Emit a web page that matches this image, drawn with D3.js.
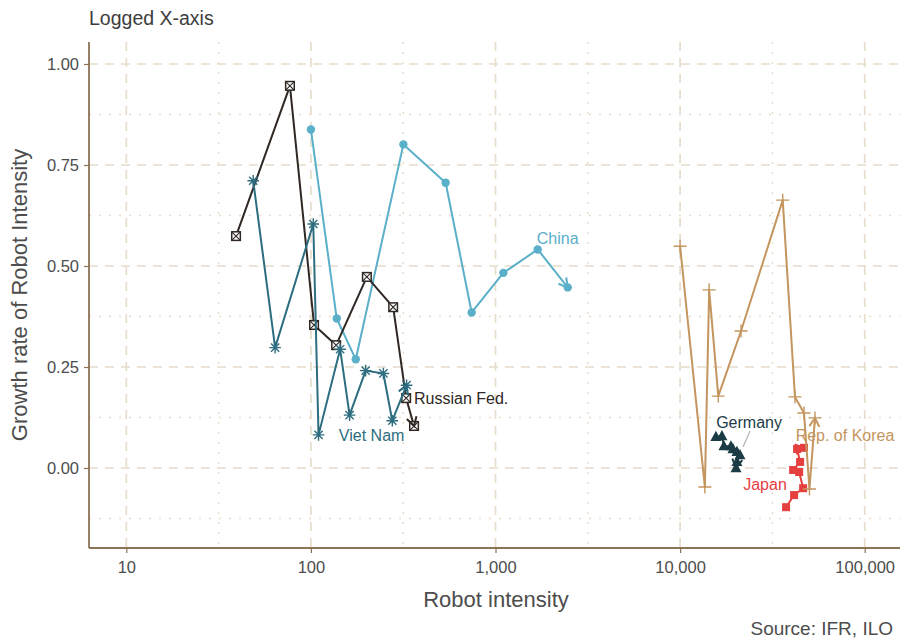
<!DOCTYPE html>
<html>
<head>
<meta charset="utf-8">
<script src="https://cdn.jsdelivr.net/npm/d3@7"></script>
<style>
  body { margin: 0; background: #fff; }
  svg { display: block; font-family: "Liberation Sans", Arial, sans-serif; }
</style>
</head>
<body>
<svg id="chart" width="903" height="640"></svg>
<script>
// Axis ticks
const xTicks = [10, 100, 1000, 10000, 100000];
const xMinorTicks = [31.6228, 316.228, 3162.28, 31622.8];
const yTicks = [0, 0.25, 0.5, 0.75, 1];
const yMinorTicks = [-0.125, 0.125, 0.375, 0.625, 0.875];

// Robot intensity (x) and its growth rate (y), one path per country, in time order
const chinaIntensity  = [100, 138, 175, 317, 537, 743, 1103, 1693, 2461];
const chinaGrowth     = [0.838, 0.370, 0.269, 0.801, 0.706, 0.385, 0.483, 0.541, 0.447];

const germanyIntensity = [15630, 16850, 17270, 18850, 19330, 20320, 21100, 20320, 20090];
const germanyGrowth    = [0.077, 0.079, 0.054, 0.054, 0.047, 0.040, 0.032, 0.015, 0.000];

const japanIntensity = [37500, 41450, 46400, 44140, 40950, 44680, 43040, 46900];
const japanGrowth    = [-0.097, -0.067, -0.050, -0.010, -0.005, 0.015, 0.047, 0.050];

const koreaIntensity = [10000, 13620, 14370, 16100, 21380, 35970, 41900, 46900, 50200, 53800];
const koreaGrowth    = [0.549, -0.047, 0.441, 0.178, 0.339, 0.663, 0.176, 0.136, -0.052, 0.124];

const russiaIntensity = [39.3, 77, 104, 137, 201, 279, 328, 362];
const russiaGrowth    = [0.574, 0.946, 0.354, 0.304, 0.473, 0.398, 0.173, 0.104];

const vietnamIntensity = [48.7, 64, 103, 110, 144, 162, 198, 247, 276, 330];
const vietnamGrowth    = [0.711, 0.298, 0.604, 0.082, 0.294, 0.131, 0.241, 0.234, 0.117, 0.205];

const countryNames = ["China", "Germany", "Japan", "Rep. of Korea", "Russian Fed.", "Viet Nam"];

const series = [
  { name: countryNames[0], x: chinaIntensity,   y: chinaGrowth,   color: "#5aafc9", shape: "circle",   lab: { dx: -10, dy: -49 } },
  { name: countryNames[1], x: germanyIntensity, y: germanyGrowth, color: "#1b3b46", shape: "triangle", lab: { dx: 13, dy: -46 }, leader: true },
  { name: countryNames[2], x: japanIntensity,   y: japanGrowth,   color: "#e5403f", shape: "square",   lab: { dx: -39, dy: 37 } },
  { name: countryNames[3], x: koreaIntensity,   y: koreaGrowth,   color: "#c4955e", shape: "plus",     lab: { dx: 30, dy: 17 } },
  { name: countryNames[4], x: russiaIntensity,  y: russiaGrowth,  color: "#2f2824", shape: "boxx",     lab: { dx: 0, dy: -28, anchor: "start" } },
  { name: countryNames[5], x: vietnamIntensity, y: vietnamGrowth, color: "#2d6d80", shape: "asterisk", lab: { dx: -35, dy: 50 } }
];

const svg = d3.select("#chart");

// Panel edges
const panel = { left: 89, right: 900, top: 42, bottom: 548 };

const x = d3.scaleLog().domain([10, 100000]).range([126.3, 864.7]);
const y = d3.scaleLinear().domain([0, 1]).range([468, 64]);

const gridColor = "#e8dccb";
const axisColor = "#8c7355";
const textColor = "#4d4d4d";

// Grid
const grid = svg.append("g");
grid.selectAll(".hmaj").data(yTicks).join("line")
  .attr("x1", panel.left).attr("x2", panel.right)
  .attr("y1", d => y(d)).attr("y2", d => y(d))
  .attr("stroke", gridColor).attr("stroke-width", 1.7).attr("stroke-dasharray", "9,7");
grid.selectAll(".hmin").data(yMinorTicks).join("line")
  .attr("x1", panel.left).attr("x2", panel.right)
  .attr("y1", d => y(d)).attr("y2", d => y(d))
  .attr("stroke", gridColor).attr("stroke-width", 1.5).attr("stroke-dasharray", "2,8");
grid.selectAll(".vmaj").data(xTicks).join("line")
  .attr("x1", d => x(d)).attr("x2", d => x(d))
  .attr("y1", panel.top).attr("y2", panel.bottom)
  .attr("stroke", gridColor).attr("stroke-width", 1.7).attr("stroke-dasharray", "9,7");
grid.selectAll(".vmin").data(xMinorTicks).join("line")
  .attr("x1", d => x(d)).attr("x2", d => x(d))
  .attr("y1", panel.top).attr("y2", panel.bottom)
  .attr("stroke", gridColor).attr("stroke-width", 1.5).attr("stroke-dasharray", "2,8");

// Axes
const xAxis = d3.axisBottom(x).tickValues(xTicks).tickFormat(d3.format(",")).tickSize(5).tickPadding(8);
const yAxis = d3.axisLeft(y).tickValues(yTicks).tickFormat(d3.format(".2f")).tickSize(5).tickPadding(5);

const gx = svg.append("g").attr("transform", `translate(0,${panel.bottom})`).call(xAxis);
const gy = svg.append("g").attr("transform", `translate(${panel.left},0)`).call(yAxis);
[gx, gy].forEach(g => {
  g.select(".domain").remove();
  g.selectAll(".tick line").attr("stroke", axisColor).attr("stroke-width", 1.2);
  g.selectAll(".tick text").attr("fill", textColor).style("font-size", "16.5px")
    .style("font-family", "'Liberation Sans', Arial, sans-serif");
});
svg.append("line").attr("x1", panel.left).attr("x2", panel.right)
  .attr("y1", panel.bottom).attr("y2", panel.bottom)
  .attr("stroke", axisColor).attr("stroke-width", 1.8);
svg.append("line").attr("x1", panel.left).attr("x2", panel.left)
  .attr("y1", panel.top).attr("y2", panel.bottom)
  .attr("stroke", axisColor).attr("stroke-width", 1.8);

// Marker symbols
function drawMarker(g, shape, px, py, color) {
  if (shape === "circle") {
    g.append("circle").attr("cx", px).attr("cy", py).attr("r", 4.2).attr("fill", color);
  } else if (shape === "triangle") {
    const s = 5.5;
    g.append("path").attr("d", `M${px},${py - s * 1.1}L${px + s},${py + s * 0.75}L${px - s},${py + s * 0.75}Z`).attr("fill", color);
  } else if (shape === "square") {
    g.append("rect").attr("x", px - 4).attr("y", py - 4).attr("width", 8).attr("height", 8).attr("fill", color);
  } else if (shape === "plus") {
    const s = 6.5;
    g.append("path").attr("d", `M${px - s},${py}H${px + s}M${px},${py - s}V${py + s}`)
      .attr("stroke", color).attr("stroke-width", 1.4).attr("fill", "none");
  } else if (shape === "boxx") {
    const s = 4.3;
    g.append("rect").attr("x", px - s).attr("y", py - s).attr("width", 2 * s).attr("height", 2 * s)
      .attr("fill", "#fff").attr("stroke", color).attr("stroke-width", 1.5);
    g.append("path").attr("d", `M${px - s},${py - s}L${px + s},${py + s}M${px + s},${py - s}L${px - s},${py + s}`)
      .attr("stroke", color).attr("stroke-width", 1.1);
  } else if (shape === "asterisk") {
    const s = 5.8, d = s * 0.707;
    g.append("path").attr("d",
      `M${px - s},${py}H${px + s}M${px},${py - s}V${py + s}M${px - d},${py - d}L${px + d},${py + d}M${px + d},${py - d}L${px - d},${py + d}`)
      .attr("stroke", color).attr("stroke-width", 1.4);
  }
}

const line = d3.line().x(d => x(d[0])).y(d => y(d[1]));
const marks = svg.append("g");

series.forEach(s => {
  const pts = s.x.map((v, i) => [v, s.y[i]]);
  const g = marks.append("g");
  g.append("path").attr("d", line(pts)).attr("fill", "none")
    .attr("stroke", s.color).attr("stroke-width", 2).attr("stroke-linejoin", "round");
  pts.forEach(p => drawMarker(g, s.shape, x(p[0]), y(p[1]), s.color));

  // open arrowhead at the final point
  const a = pts[pts.length - 2], b = pts[pts.length - 1];
  const ax = x(a[0]), ay = y(a[1]), bx = x(b[0]), by = y(b[1]);
  const ang = Math.atan2(by - ay, bx - ax);
  const len = 10, spread = Math.PI / 6;
  const p1 = [bx - len * Math.cos(ang - spread), by - len * Math.sin(ang - spread)];
  const p2 = [bx - len * Math.cos(ang + spread), by - len * Math.sin(ang + spread)];
  g.append("path").attr("d", `M${p1[0]},${p1[1]}L${bx},${by}L${p2[0]},${p2[1]}`)
    .attr("fill", "none").attr("stroke", s.color).attr("stroke-width", 2);
});

// Country labels
const labels = svg.append("g");
series.forEach(s => {
  const n = s.x.length - 1;
  const lx = x(s.x[n]) + s.lab.dx, ly = y(s.y[n]) + s.lab.dy;
  if (s.leader) {
    labels.append("line").attr("x1", lx + 1).attr("y1", ly + 9)
      .attr("x2", lx - 6).attr("y2", ly + 25)
      .attr("stroke", "#b3b3b3").attr("stroke-width", 1.2);
  }
  labels.append("text").attr("x", lx).attr("y", ly).attr("dy", "0.35em")
    .attr("text-anchor", s.lab.anchor || "middle")
    .attr("fill", s.color).style("font-size", "16px").text(s.name);
});

// Titles
svg.append("text").attr("x", 89).attr("y", 25).attr("fill", "#3d3d3d")
  .style("font-size", "19.5px").text("Logged X-axis");
svg.append("text").attr("x", 496).attr("y", 607).attr("text-anchor", "middle")
  .attr("fill", textColor).style("font-size", "22px").text("Robot intensity");
svg.append("text").attr("transform", `translate(27,${(panel.top + panel.bottom) / 2}) rotate(-90)`)
  .attr("text-anchor", "middle").attr("fill", textColor).style("font-size", "22px")
  .text("Growth rate of Robot Intensity");
svg.append("text").attr("x", 893).attr("y", 635).attr("text-anchor", "end")
  .attr("fill", textColor).style("font-size", "19px").text("Source: IFR, ILO");
</script>
</body>
</html>
